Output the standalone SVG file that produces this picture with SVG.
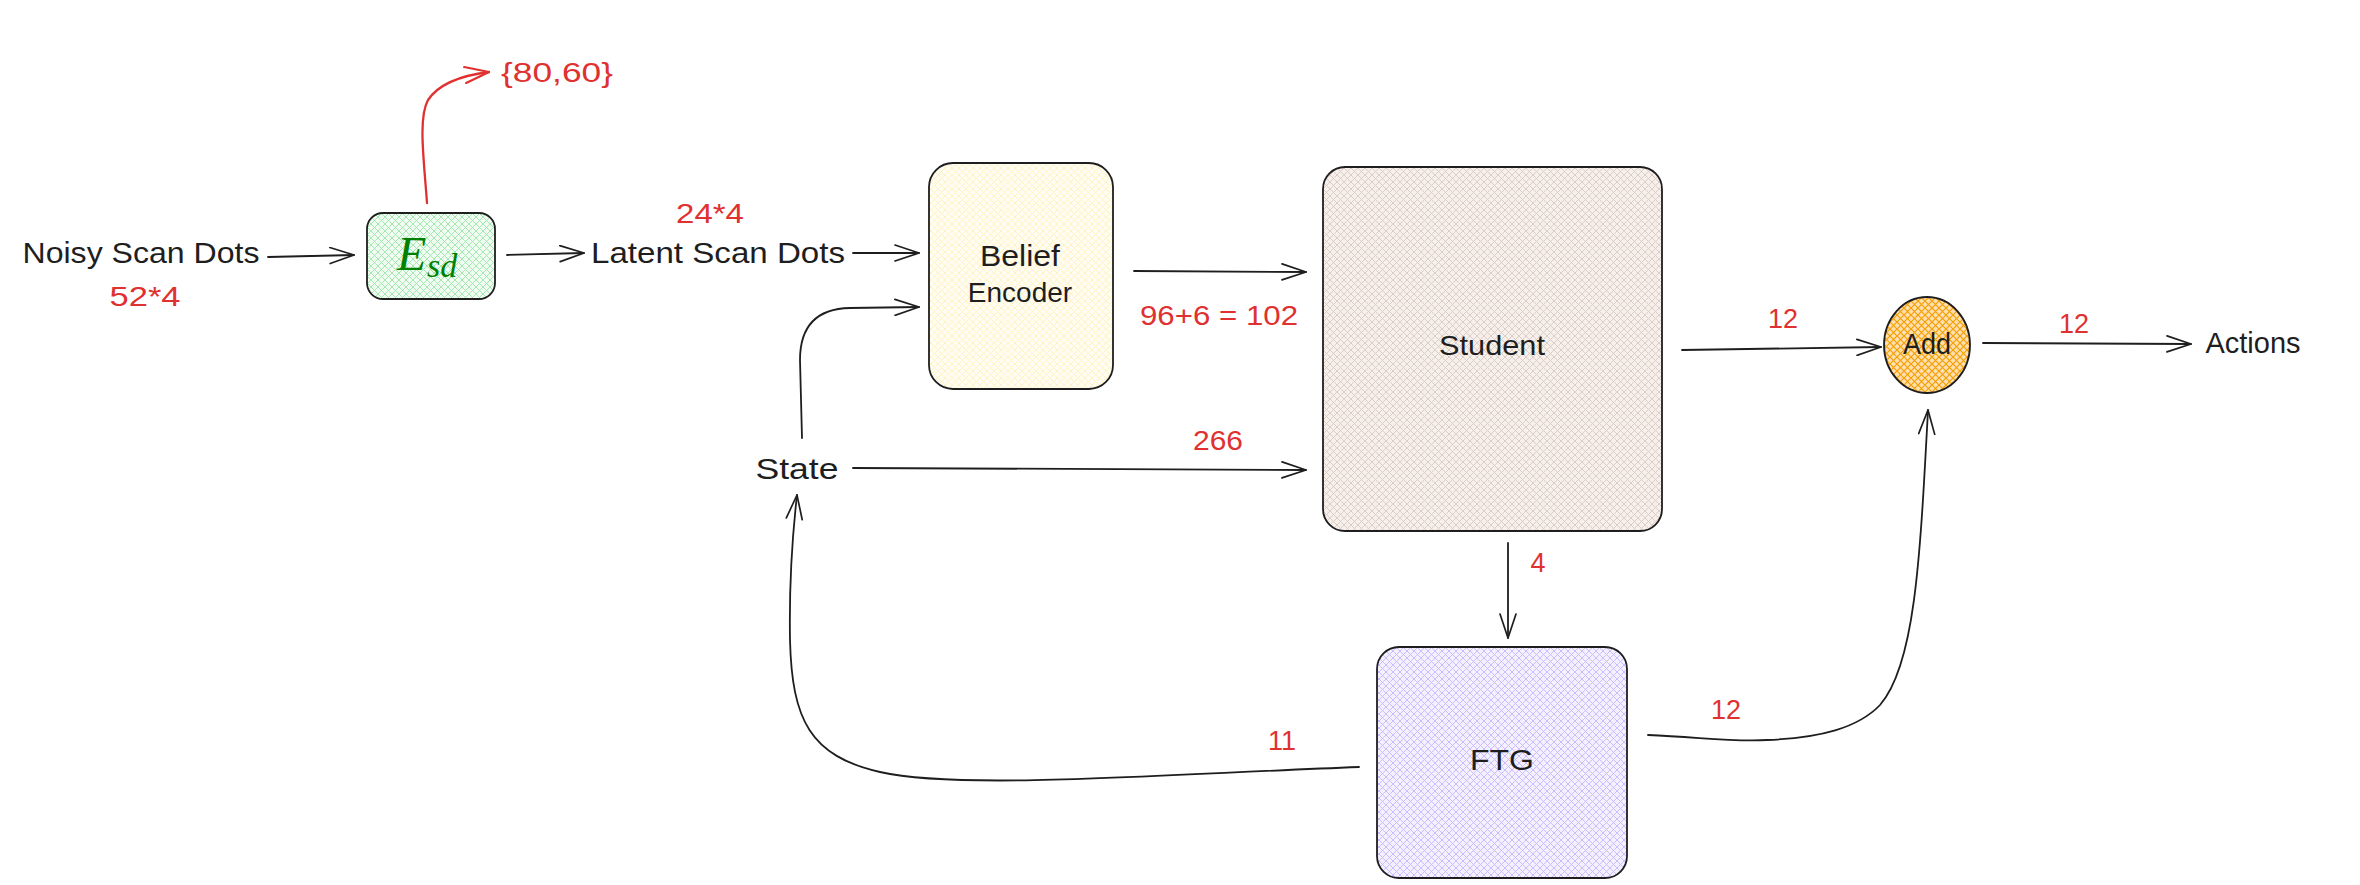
<svg xmlns="http://www.w3.org/2000/svg" width="2360" height="885" viewBox="0 0 2360 885">
<defs>
<style>
.t{font-family:"Liberation Sans",Arial,sans-serif;fill:#1e1e1e;text-anchor:middle}
.r{font-family:"Liberation Sans",Arial,sans-serif;fill:#e03131;text-anchor:middle;font-size:27px}
.box{stroke:#1e1e1e;stroke-width:1.8}
.c{fill:none;stroke:#1e1e1e;stroke-width:1.8;stroke-linecap:round}
.cr{fill:none;stroke:#e03131;stroke-width:2.3;stroke-linecap:round}
</style>
<marker id="ah" viewBox="0 0 26 18" refX="25" refY="9" markerWidth="26" markerHeight="18" markerUnits="userSpaceOnUse" orient="auto">
<path d="M1,1 L25,9 L1,17" fill="none" stroke="#1e1e1e" stroke-width="1.7" stroke-linecap="round" stroke-linejoin="round"/>
</marker>
<marker id="ahr" viewBox="0 0 26 18" refX="25" refY="9" markerWidth="26" markerHeight="18" markerUnits="userSpaceOnUse" orient="auto">
<path d="M1,1 L25,9 L1,17" fill="none" stroke="#e03131" stroke-width="2.2" stroke-linecap="round" stroke-linejoin="round"/>
</marker>
<pattern id="pg" width="7" height="7" patternUnits="userSpaceOnUse">
<rect width="7" height="7" fill="#f1fcf3"/>
<path d="M-1,-1 L8,8 M8,-1 L-1,8" stroke="#9ae6a8" stroke-width="0.9"/>
</pattern>
<pattern id="py" width="7" height="7" patternUnits="userSpaceOnUse">
<rect width="7" height="7" fill="#fffdf2"/>
<path d="M-1,-1 L8,8 M8,-1 L-1,8" stroke="#fff1c2" stroke-width="0.9"/>
</pattern>
<pattern id="pb" width="7" height="7" patternUnits="userSpaceOnUse">
<rect width="7" height="7" fill="#f6f0ed"/>
<path d="M-1,-1 L8,8 M8,-1 L-1,8" stroke="#dcc8bf" stroke-width="0.9"/>
</pattern>
<pattern id="pp" width="7" height="7" patternUnits="userSpaceOnUse">
<rect width="7" height="7" fill="#f3f0ff"/>
<path d="M-1,-1 L8,8 M8,-1 L-1,8" stroke="#c8b8ff" stroke-width="0.9"/>
</pattern>
<pattern id="po" width="7" height="7" patternUnits="userSpaceOnUse">
<rect width="7" height="7" fill="#ffe0b0"/>
<path d="M-1,-1 L8,8 M8,-1 L-1,8" stroke="#f59f00" stroke-width="1.2"/>
</pattern>
</defs>
<rect width="2360" height="885" fill="#ffffff"/>

<g id="connectors">
<path class="c" d="M268,257 L354,255" marker-end="url(#ah)"/>
<path class="c" d="M507,255 L584,253" marker-end="url(#ah)"/>
<path class="c" d="M853,253 L919,253" marker-end="url(#ah)"/>
<path class="c" d="M802,438 L800,360 Q800,309 850,308 L919,307" marker-end="url(#ah)"/>
<path class="c" d="M1134,271 L1306,272" marker-end="url(#ah)"/>
<path class="c" d="M853,468 L1306,470" marker-end="url(#ah)"/>
<path class="c" d="M1682,350 L1881,347" marker-end="url(#ah)"/>
<path class="c" d="M1983,343 L2191,344" marker-end="url(#ah)"/>
<path class="c" d="M1508,543 L1508,638" marker-end="url(#ah)"/>
<path class="c" d="M1359,767 C1150,775 960,790 880,772 C810,756 792,720 790,640 C789,580 793,530 797,495" marker-end="url(#ah)"/>
<path class="c" d="M1648,735 C1700,737 1730,742 1767,740 C1820,738 1858,728 1880,705 C1915,665 1920,560 1928,410" marker-end="url(#ah)"/>
<path class="cr" d="M427,203 C424,160 418,118 428,100 C440,82 465,75 489,72" marker-end="url(#ahr)"/>
</g>

<g id="noisy"><text class="t" x="141" y="263" font-size="30" textLength="237" lengthAdjust="spacingAndGlyphs">Noisy Scan Dots</text></g>
<g id="lbl-52"><text class="r" x="145" y="306" textLength="71" lengthAdjust="spacingAndGlyphs">52*4</text></g>

<g id="esd">
<rect class="box" x="367" y="213" width="128" height="86" rx="16" fill="url(#pg)"/>
<text x="397" y="270" font-family="'Liberation Serif',serif" font-style="italic" font-size="48" fill="#008000">E</text>
<text x="427" y="277" font-family="'Liberation Serif',serif" font-style="italic" font-size="34" fill="#008000">sd</text>
</g>
<g id="lbl-8060"><text class="r" x="557" y="82" textLength="112" lengthAdjust="spacingAndGlyphs">{80,60}</text></g>

<g id="latent"><text class="t" x="718" y="263" font-size="30" textLength="254" lengthAdjust="spacingAndGlyphs">Latent Scan Dots</text></g>
<g id="lbl-24"><text class="r" x="710" y="223" textLength="68" lengthAdjust="spacingAndGlyphs">24*4</text></g>

<g id="belief">
<rect class="box" x="929" y="163" width="184" height="226" rx="24" fill="url(#py)"/>
<text class="t" x="1020" y="266" font-size="29" textLength="80" lengthAdjust="spacingAndGlyphs">Belief</text>
<text class="t" x="1020" y="302" font-size="28">Encoder</text>
</g>
<g id="lbl-102"><text class="r" x="1219" y="325" textLength="158" lengthAdjust="spacingAndGlyphs">96+6 = 102</text></g>

<g id="state"><text class="t" x="797" y="479" font-size="30" textLength="83" lengthAdjust="spacingAndGlyphs">State</text></g>
<g id="lbl-266"><text class="r" x="1218" y="450" textLength="50" lengthAdjust="spacingAndGlyphs">266</text></g>

<g id="student">
<rect class="box" x="1323" y="167" width="339" height="364" rx="22" fill="url(#pb)"/>
<text class="t" x="1492" y="355" font-size="28" textLength="106" lengthAdjust="spacingAndGlyphs">Student</text>
</g>
<g id="lbl-12a"><text class="r" x="1783" y="328">12</text></g>

<g id="add">
<ellipse class="box" cx="1927" cy="345" rx="43" ry="48" fill="url(#po)"/>
<text class="t" x="1927" y="354" font-size="29" textLength="48" lengthAdjust="spacingAndGlyphs">Add</text>
</g>
<g id="lbl-12b"><text class="r" x="2074" y="333">12</text></g>

<g id="actions"><text class="t" x="2253" y="353" font-size="30" textLength="95" lengthAdjust="spacingAndGlyphs">Actions</text></g>

<g id="lbl-4"><text class="r" x="1538" y="572">4</text></g>

<g id="ftg">
<rect class="box" x="1377" y="647" width="250" height="231" rx="22" fill="url(#pp)"/>
<text class="t" x="1502" y="770" font-size="29" textLength="64" lengthAdjust="spacingAndGlyphs">FTG</text>
</g>
<g id="lbl-11"><text class="r" x="1282" y="750">11</text></g>
<g id="lbl-12c"><text class="r" x="1726" y="719">12</text></g>
</svg>
